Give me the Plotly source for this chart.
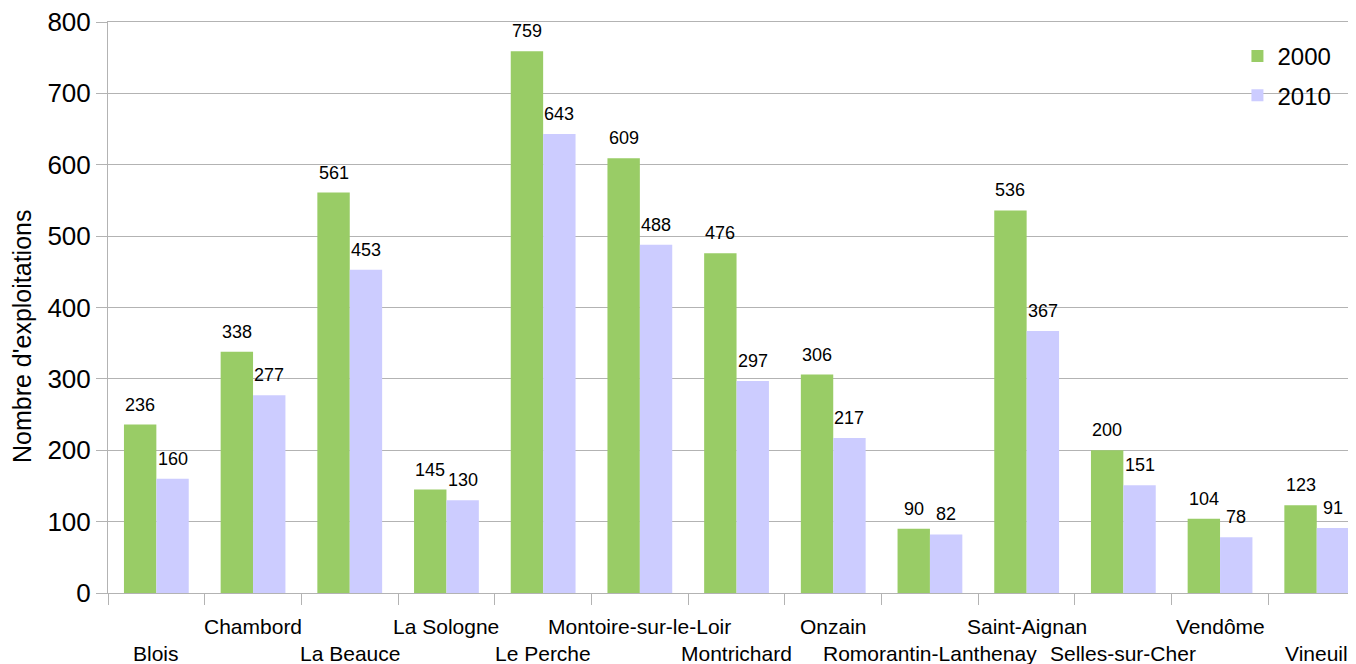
import plotly.graph_objects as go

categories = ["Blois", "Chambord", "La Beauce", "La Sologne", "Le Perche",
              "Montoire-sur-le-Loir", "Montrichard", "Onzain",
              "Romorantin-Lanthenay", "Saint-Aignan", "Selles-sur-Cher",
              "Vendôme", "Vineuil"]
values_2000 = [236, 338, 561, 145, 759, 609, 476, 306, 90, 536, 200, 104, 123]
values_2010 = [160, 277, 453, 130, 643, 488, 297, 217, 82, 367, 151, 78, 91]
series_names = ["2000", "2010"]
y_ticks = [0, 100, 200, 300, 400, 500, 600, 700, 800]
y_title = "Nombre d'exploitations"

FONT = "Liberation Sans, Arial, sans-serif"
GREEN = "#99cc66"
LAVENDER = "#ccccff"
GRID = "#b3b3b3"

series = [(series_names[0], values_2000, GREEN),
          (series_names[1], values_2010, LAVENDER)]

fig = go.Figure()
for name, vals, col in series:
    fig.add_trace(go.Bar(
        x=categories, y=vals, name=name, marker_color=col,
        marker_line_width=0, legendgroup=name,
    ))

annotations = []
# value labels above each bar
half_bar_px = 16.2
for s, (name, vals, col) in enumerate(series):
    for c, v in zip(categories, vals):
        annotations.append(dict(
            x=c, y=v, xref="x", yref="y", text=str(v), showarrow=False,
            xanchor="center", yanchor="middle",
            xshift=(-half_bar_px if s == 0 else half_bar_px), yshift=20,
            font=dict(family=FONT, size=18, color="#000000"),
        ))
# staggered category labels
for i, c in enumerate(categories):
    annotations.append(dict(
        x=c, y=0, xref="x", yref="paper", text=c, showarrow=False,
        yanchor="middle", xanchor="center",
        yshift=-60 if i % 2 == 0 else -33,
        font=dict(family=FONT, size=21, color="#000000"),
    ))
# y-axis title
annotations.append(dict(
    x=0, y=0.45, xref="paper", yref="paper", text=y_title, showarrow=False,
    textangle=-90, xanchor="center", yanchor="middle", xshift=-86,
    font=dict(family=FONT, size=25, color="#000000"),
))

fig.update_layout(
    width=1356, height=664,
    margin=dict(l=100, r=8, t=14, b=79, autoexpand=False),
    paper_bgcolor="white", plot_bgcolor="white",
    barmode="group", bargap=0.33, bargroupgap=0,
    font=dict(family=FONT, color="#000000"),
    showlegend=True,
    legend=dict(x=0.905, y=0.979, xanchor="left", yanchor="top",
                font=dict(family=FONT, size=24, color="#000000"),
                bgcolor="rgba(0,0,0,0)", tracegroupgap=5,
                itemwidth=30),
    annotations=annotations,
)
fig.update_xaxes(
    range=[-0.5, 12.406], showticklabels=False, automargin=False,
    ticks="outside", tickson="boundaries", ticklen=11, tickcolor=GRID,
    showline=True, mirror=True, linecolor=GRID, linewidth=1, showgrid=False,
)
fig.update_yaxes(
    range=[0, 800], tickvals=y_ticks, automargin=False,
    ticks="outside", ticklen=11, tickcolor=GRID,
    showline=True, linecolor=GRID, linewidth=1,
    showgrid=True, gridcolor=GRID, gridwidth=1, zeroline=False,
    tickfont=dict(family=FONT, size=26, color="#000000"),
    ticklabeloverflow="allow",
)
fig.write_html("out.html")
